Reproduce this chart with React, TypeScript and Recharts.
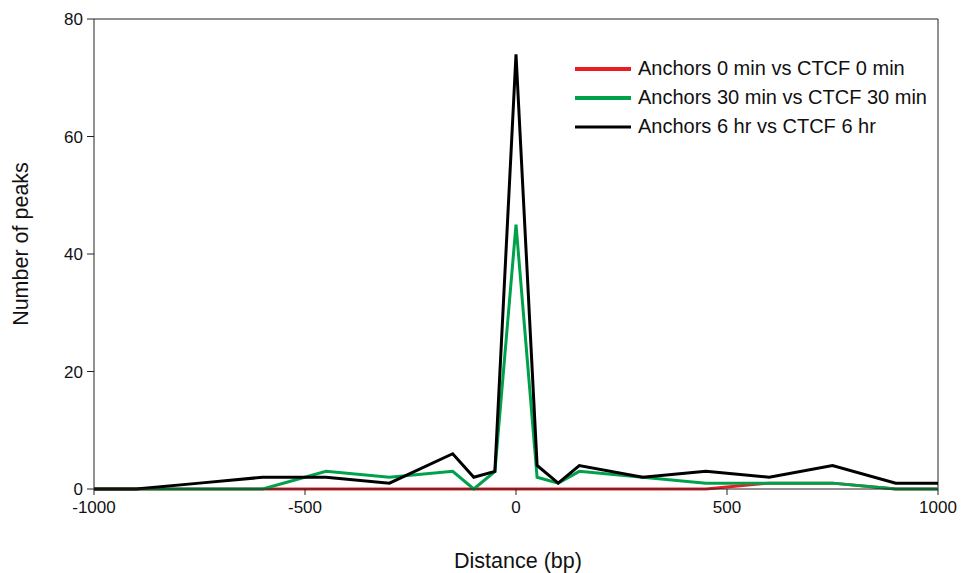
import React from 'react';
import { LineChart, Line, XAxis, YAxis, ReferenceLine, Legend } from 'recharts';

const distances = [-1000, -900, -750, -600, -450, -300, -150, -100, -50, 0, 50, 100, 150, 300, 450, 600, 750, 900, 1000];
const anchors0 = [0, 0, 0, 0, 0, 0, 0, 0, 0, 0, 0, 0, 0, 0, 0, 1, 1, 0, 0];
const anchors30 = [0, 0, 0, 0, 3, 2, 3, 0, 3, 45, 2, 1, 3, 2, 1, 1, 1, 0, 0];
const anchors6 = [0, 0, 1, 2, 2, 1, 6, 2, 3, 74, 4, 1, 4, 2, 3, 2, 4, 1, 1];
const xTicks = [-1000, -500, 0, 500, 1000];
const yTicks = [0, 20, 40, 60, 80];
const seriesNames = ['Anchors 0 min vs CTCF 0 min', 'Anchors 30 min vs CTCF 30 min', 'Anchors 6 hr vs CTCF 6 hr'];
const seriesColors = ['#ec1c24', '#00a14b', '#000000'];

const data = distances.map((d, i) => ({ d, a0: anchors0[i], a30: anchors30[i], a6: anchors6[i] }));

const FONT = 'Liberation Sans, Arial, sans-serif';

const LegendContent = () => (
  <div style={{ fontFamily: FONT, fontSize: 20, color: '#111', textAlign: 'left' }}>
    {seriesNames.map((n, i) => (
      <div key={n} style={{ display: 'flex', alignItems: 'center', height: 29 }}>
        <svg width={63} height={10}>
          <line x1={0} y1={5} x2={56} y2={5} stroke={seriesColors[i]} strokeWidth={i === 2 ? 3 : 4} />
        </svg>
        <span>{n}</span>
      </div>
    ))}
  </div>
);

export default function App() {
  return (
    <div style={{ position: 'absolute', left: 0, top: 0, background: '#fff' }}>
      <LineChart width={962} height={573} data={data} margin={{ top: 19, right: 24, bottom: 54, left: 34 }}>
        <XAxis
          dataKey="d"
          type="number"
          domain={[-1000, 1000]}
          ticks={xTicks}
          tickSize={6}
          tickMargin={6}
          stroke="#222"
          tick={{ fill: '#111', fontSize: 17, fontFamily: FONT }}
          height={30}
          label={{
            content: () => (
              <text x={518} y={561} textAnchor="middle" dominantBaseline="central" fontSize={21.5} fontFamily={FONT} fill="#111">
                Distance (bp)
              </text>
            ),
          }}
        />
        <YAxis
          type="number"
          domain={[0, 80]}
          ticks={yTicks}
          tickSize={7}
          tickMargin={4}
          stroke="#222"
          width={60}
          tick={{ fill: '#111', fontSize: 17, fontFamily: FONT }}
          label={{
            content: () => (
              <text x={21} y={244} textAnchor="middle" dominantBaseline="central" fontSize={21.5} fontFamily={FONT} fill="#111" transform="rotate(-90, 21, 244)">
                Number of peaks
              </text>
            ),
          }}
        />
        <ReferenceLine y={80} stroke="#222" strokeWidth={1} />
        <ReferenceLine x={1000} stroke="#222" strokeWidth={1} />
        <Legend
          layout="vertical"
          verticalAlign="middle"
          align="center"
          wrapperStyle={{ left: 575, top: 54, width: 380 }}
          content={LegendContent}
        />
        <Line dataKey="a0" stroke={seriesColors[0]} strokeWidth={3} dot={false} isAnimationActive={false} />
        <Line dataKey="a30" stroke={seriesColors[1]} strokeWidth={3} dot={false} isAnimationActive={false} />
        <Line dataKey="a6" stroke={seriesColors[2]} strokeWidth={3} dot={false} isAnimationActive={false} />
      </LineChart>
    </div>
  );
}
